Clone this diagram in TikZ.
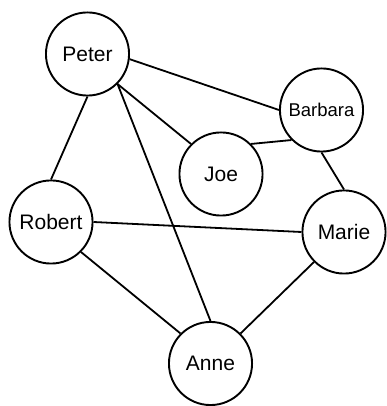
\documentclass[tikz,border=0pt]{standalone}
\usepackage{fontspec}
\setmainfont{Liberation Sans}
\begin{document}
\begin{tikzpicture}[x=1pt,y=1pt,
  person/.style={circle,draw,line width=1.9pt,minimum size=83.1pt,inner sep=0pt,font=\fontsize{21}{24}\selectfont},
  link/.style={line width=1.8pt}]
\useasboundingbox (0,0) rectangle (386,406);
\node[person] (peter) at (87.5,352) {Peter};
\node[person,font=\fontsize{18.5}{22}\selectfont] (barbara) at (321.5,296) {Barbara};
\node[person] (joe) at (221,232) {Joe};
\node[person] (robert) at (51,184) {Robert};
\node[person] (marie) at (344,174) {Marie};
\node[person] (anne) at (210.5,42.5) {Anne};
\draw[link] (peter.-7) -- (barbara.west);
\draw[link] (peter.-45) -- (joe.135);
\draw[link] (peter.south) -- (robert.north);
\draw[link] (peter.-45) -- (anne.north);
\draw[link] (barbara.225) -- (joe.45);
\draw[link] (barbara.south) -- (marie.north);
\draw[link] (robert.east) -- (marie.west);
\draw[link] (robert.-45) -- (anne.135);
\draw[link] (marie.225) -- (anne.45);
\end{tikzpicture}
\end{document}
